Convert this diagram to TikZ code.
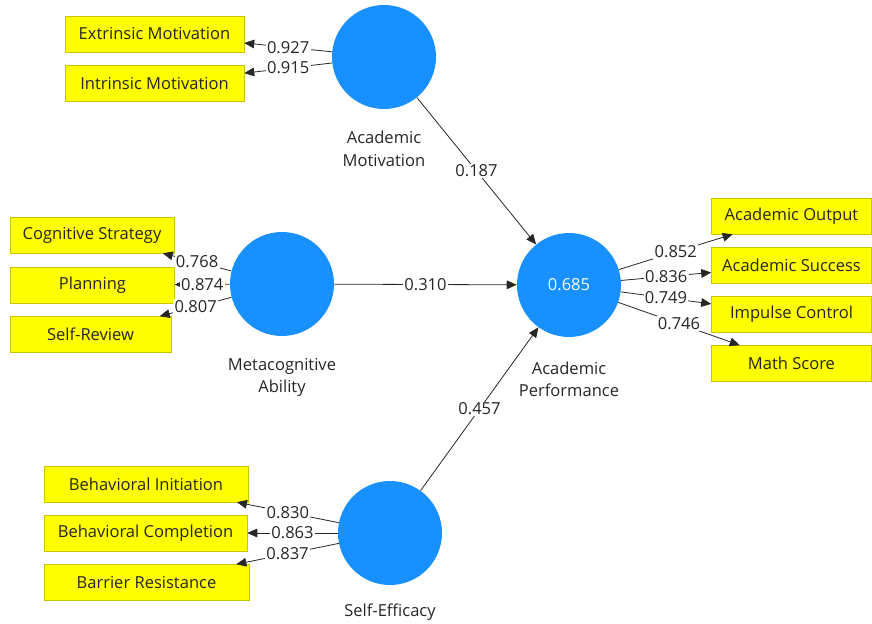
\documentclass[tikz,border=0pt]{standalone}
\usepackage{fontspec}
\setmainfont{Open Sans}
\usetikzlibrary{arrows.meta,positioning}
\definecolor{lvblue}{HTML}{1890FF}
\definecolor{indyellow}{HTML}{FFFF00}
\definecolor{indborder}{HTML}{C8C400}

\begin{document}
\begin{tikzpicture}[
    x=0.75pt,y=-0.75pt,
    >={Triangle[length=7.5pt,width=6.5pt]},
    font=\fontsize{12.4}{17}\selectfont,
    node distance=16pt,
    lv/.style={circle,fill=lvblue,minimum size=78pt,inner sep=0pt},
    ind/.style={draw=indborder,fill=indyellow,minimum height=27pt,minimum width=#1,inner sep=0pt,text=black!85},
    lvname/.style={align=center,text=black!85,inner sep=0pt},
    pth/.style={->,black!85,line width=0.6pt},
    coef/.style={fill=white,inner sep=1pt,text=black!85}]
  \useasboundingbox (0,0) rectangle (872,624);
  % latent variables
  \node[lv] (am) at (384,57) {};
  \node[lv] (ma) at (282,284) {};
  \node[lv] (ap) at (569,285) {\textcolor{white}{0.685}};
  \node[lv] (se) at (390,533) {};
  \node[lvname,below=of am] (amname) {Academic\\Motivation};
  \node[lvname,below=of ma] (maname) {Metacognitive\\Ability};
  \node[lvname,below=18pt of ap] (apname) {Academic\\Performance};
  \node[lvname,below=14pt of se] (sename) {Self-Efficacy};
  % indicators
  \node[ind=134.25pt] (em) at (154.5,34) {Extrinsic Motivation};
  \node[ind=134.25pt] (im) at (154.5,83.5) {Intrinsic Motivation};
  \node[ind=123pt] (cs) at (92,235) {Cognitive Strategy};
  \node[ind=123pt] (pl) at (92.5,285) {Planning};
  \node[ind=120.75pt] (sr) at (90.5,334.5) {Self-Review};
  \node[ind=120pt] (ao) at (791.5,216) {Academic Output};
  \node[ind=120pt] (as) at (791.5,265.5) {Academic Success};
  \node[ind=120pt] (ic) at (791.5,314.5) {Impulse Control};
  \node[ind=120pt] (ms) at (791.5,363.5) {Math Score};
  \node[ind=153pt] (bi) at (146,484) {Behavioral Initiation};
  \node[ind=152.25pt] (bc) at (145.5,533) {Behavioral Completion};
  \node[ind=153.75pt] (br) at (146.5,582.5) {Barrier Resistance};
  % outer loadings
  \draw[pth] (am) -- (em) node[coef,midway] {0.927};
  \draw[pth] (am) -- (im) node[coef,midway] {0.915};
  \draw[pth] (ma) -- (cs) node[coef,midway] {0.768};
  \draw[pth] (ma) -- (pl) node[coef,midway] {0.874};
  \draw[pth] (ma) -- (sr) node[coef,midway] {0.807};
  \draw[pth] (ap) -- (ao) node[coef,midway] {0.852};
  \draw[pth] (ap) -- (as) node[coef,midway] {0.836};
  \draw[pth] (ap) -- (ic) node[coef,midway] {0.749};
  \draw[pth] (ap) -- (ms) node[coef,midway] {0.746};
  \draw[pth] (se) -- (bi) node[coef,midway] {0.830};
  \draw[pth] (se) -- (bc) node[coef,midway] {0.863};
  \draw[pth] (se) -- (br) node[coef,midway] {0.837};
  % path coefficients
  \draw[pth] (am) -- (ap) node[coef,midway] {0.187};
  \draw[pth] (ma) -- (ap) node[coef,midway] {0.310};
  \draw[pth] (se) -- (ap) node[coef,midway] {0.457};
\end{tikzpicture}
\end{document}
